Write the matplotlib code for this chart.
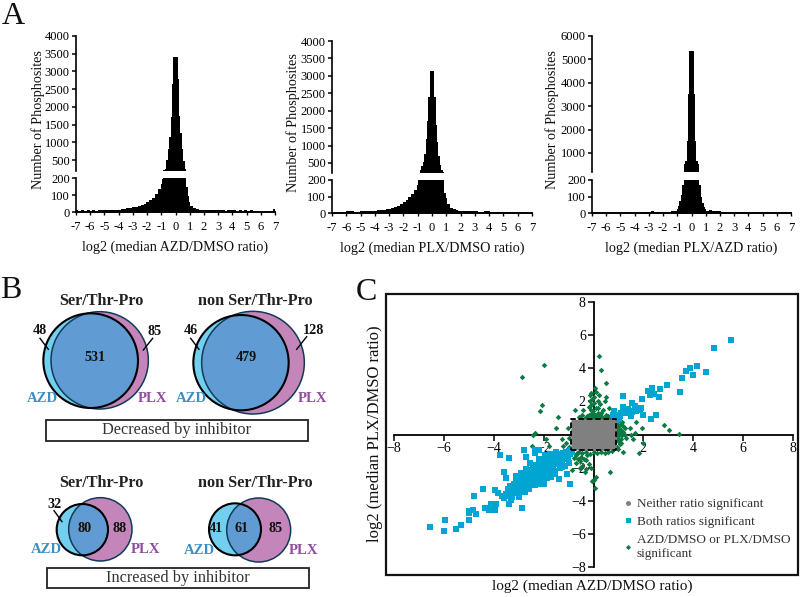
import numpy as np
import matplotlib
matplotlib.use("Agg")
import matplotlib.pyplot as plt
from matplotlib.patches import Circle, Rectangle
from matplotlib.lines import Line2D

plt.rcParams['font.family'] = ['Liberation Serif', 'DejaVu Serif']
W, H = 800, 597

# ---------- data ----------
hist_edges = np.round(np.concatenate([np.arange(-7.05, -1.06, .2), np.arange(-1.05, 1.0, .1), np.arange(1.05, 7.06, .2)]), 2)
azd_left = [9,7,12,7,11,8,12,8,12,10,12,9,11,12,12,13,15,18,22,25,28,30,34,40,46,56,68,82,105,135]
azd_core = [165,195,215,260,500,800,1150,1700,2650,3400,3420,3400,2800,1750,1250,820,480,240,150,95,60]
azd_right = [38,24,17,14,12,12,13,11,10,11,9,9,8,10,9,11,8,10,7,9,6,9,6,3,2,2,2,2,2,20]
plx_left = [0,0,0,0,0,11,10,11,9,9,11,12,12,10,12,14,16,18,20,25,27,28,34,42,54,66,76,95,118,140]
plx_core = [170,205,300,420,520,750,1200,1700,2400,3150,3150,3150,2400,1600,1100,700,450,300,230,120,90]
plx_right = [52,32,22,16,14,13,14,12,11,10,10,9,9,10,10,9,7,6,7,9,6,5,8,4,7,3,0,0,0,0]
pa_left = [0,0,0,0,0,0,0,0,0,0,0,0,0,0,0,0,2,2,2,4,6,10,7,5,7,7,8,9,11,15]
pa_core = [24,42,70,110,170,550,650,1500,3500,5350,5350,5350,3500,1500,650,550,170,100,60,35,22]
pa_right = [14,16,12,10,10,9,8,9,8,8,7,8,6,7,6,2,0,0,0,6,7,6,2,0,0,5,7,7,3,0]

hist_ticks = [-7,-6,-5,-4,-3,-2,-1,0,1,2,3,4,5,6,7]
labels_a = ["log2 (median AZD/DMSO ratio)", "log2 (median PLX/DMSO ratio)", "log2 (median PLX/AZD ratio)"]
upper_ticks_a = [[500,1000,1500,2000,2500,3000,3500,4000], [500,1000,1500,2000,2500,3000,3500,4000], [1000,2000,3000,4000,5000,6000]]

both_pts = [(5.53,5.71),(4.84,5.25),(4.15,4.16),(3.88,4.0),(3.69,3.84),(4.51,3.78),(3.99,3.58),(3.53,3.40),(3.45,2.57),(2.94,2.97),
 (2.68,2.75),(2.35,2.79),(2.19,2.65),(2.25,2.39),(2.41,2.45),(2.61,2.27),(1.95,2.13),(1.20,2.31),(1.98,1.19),(2.31,.92),(2.52,1.19),
 (.84,.98),(.91,1.09),(.98,1.19),(1.07,1.09),(1.11,1.29),(1.18,1.39),(1.2,1.65),(1.31,1.29),(1.38,1.53),(1.45,1.39),(1.55,1.33),
 (1.55,1.89),(1.65,1.73),(1.74,1.59),(1.85,1.45),(1.91,1.59),(1.69,1.39),(.91,.88),(1.02,.92),(.78,1.19),(.84,1.39),(1.49,1.09),
 (-6.56,-5.59),(-5.95,-5.15),(-5.98,-5.81),(-5.53,-5.69),(-5.3,-5.45),(-4.98,-5.15),(-5.0,-4.64),(-4.84,-4.58),(-4.71,-4.78),(-4.98,-4.74),
 (-4.34,-4.44),(-4.2,-4.54),(-4.04,-4.34),(-3.91,-4.18),(-3.95,-4.54),(-4.11,-4.18),(-4.78,-3.7),(-4.43,-3.3),(-3.95,-3.38),(-3.81,-3.54),
 (-3.67,-3.74),(-3.57,-3.84),(-3.4,-4.18),(-2.88,-4.44),(-3.75,-1.23),(-3.39,-1.39),(-2.77,-.96),(-2.7,-1.33),(-2.34,-.92),(-2.17,-.96),
 (-2.33,-1.13),(-3.57,-2.27),(-3.5,-2.63),(-.96,-2.97),(-1.4,-2.67),(-1.06,-2.37),(-1.97,-2.97),(-2.1,-2.97),
 (-3.5,-3.6),(-3.42,-3.3),(-3.38,-3.7),(-3.35,-3.1),(-3.3,-3.45),(-3.25,-3.75),(-3.2,-3.0),(-3.18,-3.3),(-3.15,-3.55),(-3.1,-2.8),
 (-3.05,-3.15),(-3.02,-3.45),(-2.98,-2.95),(-2.92,-3.3),(-2.9,-2.7),(-2.85,-3.05),(-2.82,-3.4),(-2.78,-2.5),(-2.75,-2.85),(-2.72,-3.15),
 (-2.68,-2.35),(-2.65,-2.65),(-2.62,-2.95),(-2.6,-3.3),(-2.55,-2.15),(-2.52,-2.5),(-2.5,-2.8),(-2.45,-3.0),(-2.42,-2.05),(-2.4,-2.35),
 (-2.38,-2.65),(-2.33,-1.85),(-2.3,-2.15),(-2.28,-2.5),(-2.25,-2.8),(-2.2,-1.75),(-2.18,-2.05),(-2.15,-2.35),(-2.12,-2.65),(-2.08,-1.6),
 (-2.05,-1.95),(-2.02,-2.25),(-2.0,-2.55),(-1.95,-1.5),(-1.92,-1.8),(-1.9,-2.1),(-1.87,-2.4),(-1.82,-1.45),(-1.8,-1.7),(-1.78,-2.0),
 (-1.75,-2.3),(-1.7,-1.4),(-1.67,-1.65),(-1.64,-1.9),(-1.6,-2.2),(-1.57,-1.3),(-1.54,-1.55),(-1.5,-1.8),(-1.46,-1.2),(-1.43,-1.45),
 (-1.4,-1.7),(-1.36,-2.05),(-1.33,-1.15),(-1.3,-1.35),(-1.27,-1.6),(-1.23,-1.1),(-1.2,-1.3),(-1.17,-1.5),(-1.13,-1.9),(-1.1,-1.05),
 (-1.07,-1.25),(-1.03,-1.45),(-1.0,-1.0),(-.96,-1.15),(-.92,-.95),(-.88,-1.05),(-.85,-.93),
 (-2.55,-1.75),(-2.2,-1.45),(-1.95,-1.25),(-1.75,-1.15),(-1.5,-1.05),(-2.7,-2.1),(-2.9,-2.35),(-3.1,-2.5),(-1.85,-2.65),(-1.55,-2.4),
 (-2.35,-3.05),(-2.75,-3.45),(-3.0,-3.75),(-3.3,-3.95),(-1.25,-1.95),(-1.0,-1.7),(-2.15,-2.85),(-1.7,-2.55)]

other_pts = [(-2.0,4.2),(-2.86,3.48),(.21,4.72),(.32,3.9),(.51,3.1),(.05,2.83),(.11,2.59),(-.09,2.49),(.24,2.39),(-.13,2.39),(.51,2.29),
 (.01,2.29),(-.05,2.13),(.17,2.05),(-.16,2.05),(.48,2.05),(.04,1.93),(.27,1.85),(-.09,1.79),(-2.07,1.79),(-2.13,1.39),(-1.42,1.03),
 (-.76,1.45),(-.43,1.49),(-.09,1.49),(.17,1.59),(.37,1.45),(.64,1.59),(-.6,1.05),(-.45,1.15),(-.35,1.02),(-.2,1.2),(-.08,1.05),(.05,1.18),
 (.15,1.03),(.28,1.15),(.4,1.02),(.52,1.2),(.63,1.05),(.75,1.12),(.2,1.3),(-.05,1.3),
 (-.55,1.0),(-.28,1.12),(-.12,.98),(.0,1.02),(.1,1.12),(.22,.98),(.34,1.08),(.47,1.0),(.58,1.1),(.7,1.0),(.8,1.05),(-.02,1.42),(.3,1.3),(.1,1.6),(-.2,1.65),
 (.95,.75),(1.05,.6),(.98,.42),(1.12,.3),(.95,.15),(1.08,.02),(.96,-.12),(1.1,-.25),(.98,-.42),(1.05,-.6),(.95,-.78),(1.15,.75),(1.25,.42),
 (1.45,.38),(1.2,.5),(1.31,-.22),(1.58,-.28),(1.11,-.52),(1.2,-1.07),(1.82,-1.13),(1.98,-.52),(1.65,.08),(1.71,.78),(1.95,.4),(2.81,.58),
 (3.02,.28),(3.41,.06),(1.49,-.02),(1.25,.0),(1.0,.3),(1.02,-.3),(.98,.55),(1.15,-.05),(1.2,.15),(1.0,-.9),
 (-.6,-1.05),(-.45,-1.12),(-.3,-1.03),(-.15,-1.15),(0.0,-1.05),(.15,-1.12),(.3,-1.03),(.45,-1.1),(.6,-1.03),(.75,-1.0),
 (-.7,-1.25),(-.62,-1.45),(-.55,-1.6),(-.72,-1.7),(-.45,-1.9),(-.36,-2.29),(-.86,-2.13),(-.5,-1.35),(-.3,-1.55),(-.2,-1.8),(-.12,-2.05),
 (-.8,-1.4),(-.65,-1.1),(-.4,-1.5),(-.55,-2.05),(-.28,-1.25),
 (.07,-3.26),(.67,-2.25),(.03,-2.75),(.12,-2.55),(-.05,-2.8),(-.3,-2.1),
 (-2.43,-.02),(-2.34,.12),(-1.9,-.28),(-1.5,.38),(-1.03,.38),(-1.27,-.28),(-1.1,-.5),(-2.46,-.72),(-1.77,-.72),(-1.23,-.72),(-1.0,-.2),(-.97,-.75)]

grey_x = [-.78,-.585,-.39,-.195,0,.195,.39,.585,.78]
grey_y = [-.78,-.52,-.26,0,.26,.52,.78]

legend_labels = ["Neither ratio significant", "Both ratios significant", "AZD/DMSO or PLX/DMSO\nsignificant"]
c_ticks = [-8,-6,-4,-2,2,4,6,8]

venn_titles = ["Ser/Thr-Pro", "non Ser/Thr-Pro"]
venn_counts = {"dec_st": (48, 531, 85), "dec_non": (46, 479, 128), "inc_st": (32, 80, 88), "inc_non": (41, 61, 85)}

# ---------- helpers ----------
fig = plt.figure(figsize=(W/100, H/100), dpi=100, facecolor='white')

def px_axes(l, t, r, b, **kw):
    return fig.add_axes([l/W, 1-b/H, (r-l)/W, (b-t)/H], **kw)

def hist_panel(x0, x1, y0, y200, ubot, utop, ulim, left, core, right, xlabel, uticks, ylx):
    counts = np.array(left + core + right, float)
    lo = px_axes(x0, y200, x1, y0)
    up = px_axes(x0, utop, x1, ubot)
    for ax in (lo, up):
        ax.stairs(counts, hist_edges, fill=True, color='black', lw=0)
        ax.set_xlim(-7, 7)
        for s in ('top', 'right'):
            ax.spines[s].set_visible(False)
        ax.spines['left'].set_linewidth(1.2)
        ax.tick_params(axis='y', length=3, width=1.1, pad=1.5, labelsize=9)
    lo.set_ylim(0, 200)
    lo.set_yticks([0, 100, 200])
    lo.set_xticks(hist_ticks)
    lo.set_xticklabels([str(t) for t in hist_ticks])
    lo.tick_params(axis='x', length=2.5, width=1.0, pad=4, labelsize=9)
    lo.spines['bottom'].set_linewidth(1.4)
    lo.set_xlabel(xlabel, fontsize=10.2, labelpad=5.5, color='#111111')
    up.set_ylim(*ulim)
    up.set_yticks(uticks)
    up.xaxis.set_visible(False)
    up.spines['bottom'].set_visible(False)
    fig.text(ylx/W, 1-((utop+y0)/2-4.5)/H, "Number of Phosphosites", rotation=90, fontsize=10.2,
             ha='center', va='center', color='#111111')

hist_panel(76, 275, 212, 178, 171, 36, (190, 4000), azd_left, azd_core, azd_right, labels_a[0], upper_ticks_a[0], 38)
hist_panel(332, 532, 213, 180, 173, 41, (213, 4000), plx_left, plx_core, plx_right, labels_a[1], upper_ticks_a[1], 293)
hist_panel(592, 791, 213, 180, 172, 36, (188, 6000), pa_left, pa_core, pa_right, labels_a[2], upper_ticks_a[2], 552)

# overlay in pixel coordinates
ov = fig.add_axes([0, 0, 1, 1], zorder=5)
ov.set_xlim(0, W); ov.set_ylim(H, 0); ov.axis('off'); ov.patch.set_alpha(0)

for txt, x, y in [("A", 13, 17), ("B", 11, 291), ("C", 366, 293)]:
    ov.text(x, y, txt, fontsize=23, ha='center', va='center', color='#111111')

BLUE, LIGHT, PINK = '#619BD3', '#72CFEF', '#C486BA'
AZDC, PLXC = '#3A8FC4', '#8E4C9E'

def z(zx, zy):
    return zx/3, 270+zy/3

def venn(a, ra, p, rp):
    ax_, ay_ = z(*a); px_, py_ = z(*p)
    ra, rp = ra/3, rp/3
    ov.add_patch(Circle((px_, py_), rp, fc=PINK, ec='none'))
    ov.add_patch(Circle((ax_, ay_), ra, fc=LIGHT, ec='none'))
    clip = Circle((ax_, ay_), ra, transform=ov.transData)
    ins = Circle((px_, py_), rp, fc=BLUE, ec='none')
    ov.add_patch(ins); ins.set_clip_path(clip)
    ins2 = Circle((px_, py_), rp, fc='none', ec='#123A55', lw=1.1)
    ov.add_patch(ins2)
    ov.add_patch(Circle((ax_, ay_), ra, fc='none', ec='black', lw=1.5))

def ztext(zx, zy, s, **kw):
    x, y = z(zx, zy)
    kw.setdefault('color', '#111111')
    ov.text(x, y, s, ha='center', va='center', **kw)

def leader(p, q):
    a, b = z(*p), z(*q)
    ov.plot([a[0], b[0]], [a[1], b[1]], color='black', lw=1.0)

venn((272, 272), 142, (299, 271), 146)
venn((723, 278), 143, (759, 278), 154)
venn((247, 779), 77, (301, 778), 95)
venn((705, 778), 78, (776, 780), 96)

for zy in (92, 638):
    ztext(303, zy, venn_titles[0], fontsize=11.7, fontweight='bold', color='#222222')
    ztext(766, zy, venn_titles[1], fontsize=11.7, fontweight='bold', color='#222222')

bold = dict(fontsize=10.2, fontweight='bold')
d = venn_counts["dec_st"]
ztext(120, 183, str(d[0]), **bold); ztext(285, 263, str(d[1]), **bold); ztext(463, 185, str(d[2]), **bold)
d = venn_counts["dec_non"]
ztext(572, 183, str(d[0]), **bold); ztext(738, 263, str(d[1]), **bold); ztext(941, 183, str(d[2]), **bold)
d = venn_counts["inc_st"]
ztext(162, 702, str(d[0]), **bold); ztext(255, 775, str(d[1]), **bold); ztext(358, 775, str(d[2]), **bold)
d = venn_counts["inc_non"]
ztext(648, 775, str(d[0]), **bold); ztext(726, 775, str(d[1]), **bold); ztext(827, 775, str(d[2]), **bold)

leader((120, 205), (145, 238)); leader((458, 205), (430, 240))
leader((572, 205), (597, 238)); leader((920, 200), (890, 238))
leader((162, 722), (186, 755))

for zx, zy, s, c in [(128, 385, "AZD", AZDC), (458, 385, "PLX", PLXC), (573, 385, "AZD", AZDC), (937, 385, "PLX", PLXC),
                     (138, 838, "AZD", AZDC), (437, 838, "PLX", PLXC), (597, 842, "AZD", AZDC), (911, 842, "PLX", PLXC)]:
    ztext(zx, zy, s, fontsize=10.6, fontweight='bold', color=c)

for (x0, y0, x1, y1), s in [(((46, 420, 308, 441)), "Decreased by inhibitor"), ((47, 568, 309, 588), "Increased by inhibitor")]:
    ov.add_patch(Rectangle((x0, y0), x1-x0, y1-y0, fc='white', ec='#222222', lw=1.3))
    ov.text((x0+x1)/2, (y0+y1)/2, s, fontsize=11.8, ha='center', va='center', color='#333333')

# panel C frame and labels
ov.add_patch(Rectangle((386, 294), 412, 281, fc='none', ec='#111111', lw=1.6))
ov.text(592, 586, "log2 (median AZD/DMSO ratio)", fontsize=11, ha='center', va='center', color='#111111')
ov.text(375, 434, "log2 (median PLX/DMSO ratio)", fontsize=12, rotation=90, ha='center', va='center', color='#111111')

# panel C scatter
axc = px_axes(394, 302, 793, 567, zorder=6)
axc.patch.set_alpha(0)
axc.set_xlim(-8, 8); axc.set_ylim(-8, 8)
for s in ('top', 'right'):
    axc.spines[s].set_visible(False)
for s in ('left', 'bottom'):
    axc.spines[s].set_position('zero')
    axc.spines[s].set_linewidth(1.3)
axc.set_xticks(c_ticks); axc.set_yticks(c_ticks)
axc.tick_params(length=4, width=1.1, pad=1.5, labelsize=10)

ox, oy = zip(*other_pts)
bx, by = zip(*both_pts)
gx = [x for _ in grey_y for x in grey_x]
gy = [y for y in grey_y for _ in grey_x]
axc.scatter(ox, oy, marker='D', s=8, c='#0B7A43', lw=0, zorder=3)
axc.scatter(bx, by, marker='s', s=14, c='#00A5D1', lw=0, zorder=4)
axc.scatter(gx, gy, marker='o', s=24, c='#808080', lw=0, zorder=5)
axc.plot([-.9, .9, .9, -.9, -.9], [-.92, -.92, .92, .92, -.92], color='black', lw=1.3, ls=(0, (3, 1.6)), zorder=6)

handles = [Line2D([], [], ls='none', marker='o', ms=3.6, color='#808080', mew=0),
           Line2D([], [], ls='none', marker='s', ms=3.6, color='#00A5D1', mew=0),
           Line2D([], [], ls='none', marker='D', ms=2.6, color='#0B7A43', mew=0)]
leg = axc.legend(handles, legend_labels, loc='upper left', bbox_to_anchor=((621-394)/399, 1-(498-302)/265),
           frameon=False, fontsize=9.5, labelspacing=0.42, handletextpad=0.2, handlelength=1.0,
           borderpad=0, borderaxespad=0, labelcolor='#333333')
for t in leg.get_texts():
    t.set_linespacing(1.3)

fig.savefig('out.png', dpi=100)
